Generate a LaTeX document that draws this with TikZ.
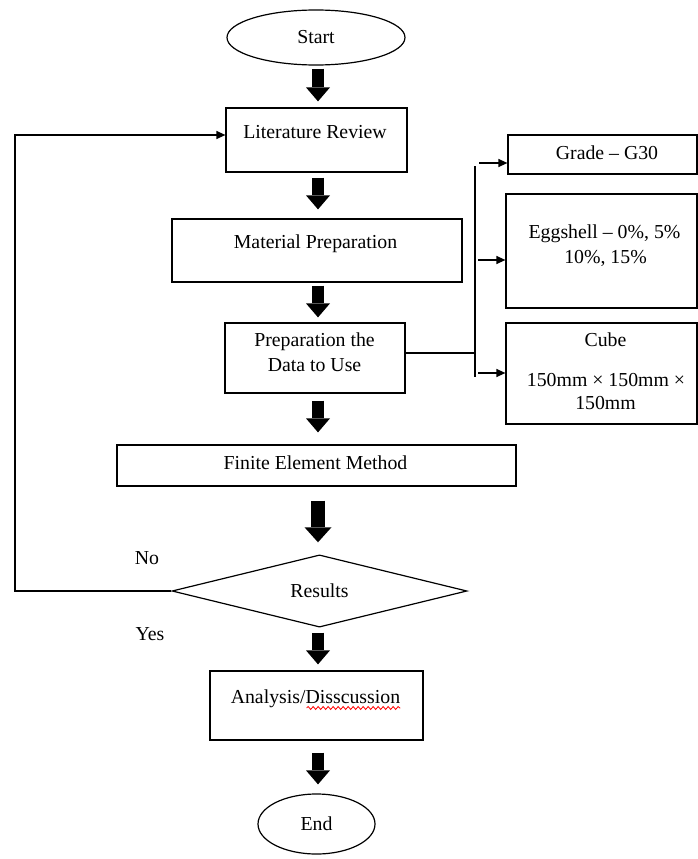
\documentclass[tikz,border=0pt]{standalone}
\usepackage{fontspec}
\setmainfont{Liberation Serif}
\usetikzlibrary{arrows.meta,shapes.geometric,decorations.pathmorphing}
\begin{document}
\begin{tikzpicture}[x=1pt,y=-1pt,
  box/.style={draw, line width=1.2pt, rectangle, inner sep=0pt},
  oval/.style={draw, line width=1.2pt, ellipse, inner sep=0pt, font=\fontsize{19.8}{23}\selectfont},
  decision/.style={draw, line width=1.2pt, diamond, inner sep=0pt, font=\fontsize{19.8}{23}\selectfont},
  txt/.style={inner sep=0pt, anchor=base, font=\fontsize{19.8}{23}\selectfont},
  blk/.style={line width=12pt, -{Triangle[width=24pt,length=14pt,line width=0pt]}},
  blkbig/.style={line width=14pt, -{Triangle[width=27pt,length=15pt,line width=0pt]}},
  thinline/.style={line width=1.2pt},
  arr/.style={line width=1.2pt, -{Triangle[width=8pt,length=9pt]}},
]
\useasboundingbox (0,0) rectangle (698,859);

% main column
\node[oval, minimum width=178pt, minimum height=55pt] (start) at (316,37.5) {Start};
\node[box, minimum width=181pt, minimum height=64pt] (lit) at (316.5,140) {};
\node[txt] (litT) at (315,138) {Literature Review};
\node[box, minimum width=290pt, minimum height=63pt] (mat) at (317,250.5) {};
\node[txt] (matT) at (315.5,248) {Material Preparation};
\node[box, minimum width=180pt, minimum height=70pt] (prep) at (315,358) {};
\node[txt] (prepT1) at (314.5,346) {Preparation the};
\node[txt] (prepT2) at (314.5,371) {Data to Use};
\node[box, minimum width=399pt, minimum height=41pt] (fem) at (316.5,465.5) {};
\node[txt] (femT) at (315.5,469) {Finite Element Method};
\node[decision, minimum width=295pt, minimum height=72pt] (res) at (319.5,591) {Results};
\node[box, minimum width=213pt, minimum height=69pt] (ana) at (316.5,705.5) {};
\node[txt] (anaT) at (315.5,703) {Analysis/Disscussion};
\node[oval, minimum width=117pt, minimum height=60pt] (end) at (316.5,824) {End};

% right column
\node[box, minimum width=189pt, minimum height=39pt] (grade) at (602.5,154.5) {};
\node[txt] (gradeT) at (607,159) {Grade -- G30};
\node[box, minimum width=191pt, minimum height=114pt] (egg) at (601.5,251) {};
\node[txt] (eggT1) at (604.5,238) {Eggshell -- 0\%, 5\%};
\node[txt] (eggT2) at (605.5,263) {10\%, 15\%};
\node[box, minimum width=191pt, minimum height=101pt] (cube) at (601.5,373.5) {};
\node[txt] (cubeT1) at (605.5,346) {Cube};
\node[txt] (cubeT2) at (606,386) {150mm × 150mm ×};
\node[txt] (cubeT3) at (605.5,409) {150mm};

% labels
\node[txt] (no) at (147,564) {No};
\node[txt] (yes) at (150,640) {Yes};

% block arrows
\coordinate (ax) at (318,0);
\draw[blk, shorten <=3pt, shorten >=6pt] (start.south -| ax) -- (lit.north -| ax);
\draw[blk, shorten <=5pt, shorten >=9pt] (lit.south -| ax) -- (mat.north -| ax);
\draw[blk, shorten <=3pt, shorten >=5pt] (mat.south -| ax) -- (prep.north -| ax);
\draw[blk, shorten <=7pt, shorten >=12pt] (prep.south -| ax) -- (fem.north -| ax);
\draw[blkbig, shorten <=14pt, shorten >=12pt] (fem.south -| ax) -- (res.north -| ax);
\draw[blk, shorten <=5pt, shorten >=6pt] (res.south -| ax) -- (ana.north -| ax);
\draw[blk, shorten <=12pt, shorten >=9pt] (ana.south -| ax) -- (end.north -| ax);

% loop back
\coordinate (loopB) at (15,591);
\coordinate (loopT) at (15,135);
\draw[arr] (res.west) -- (loopB) -- (loopT) -- (loopT -| lit.west);

% branch to right column
\coordinate (j) at (475,353);
\coordinate (busT) at (475,166);
\coordinate (busB) at (475,377);
\draw[thinline] (prep.east |- j) -- (j);
\draw[thinline] (busT) -- (busB);
\coordinate (a1) at (479,163);
\coordinate (a2) at (478,260);
\coordinate (a3) at (478,373);
\draw[arr] (a1) -- (a1 -| grade.west);
\draw[arr] (a2) -- (a2 -| egg.west);
\draw[arr] (a3) -- (a3 -| cube.west);

% spell-check squiggle
\draw[red, line width=0.8pt, decorate, decoration={snake, amplitude=1.5pt, segment length=5pt}]
  ([xshift=76pt,yshift=-5pt]anaT.base west) -- ([yshift=-5pt]anaT.base east);
\end{tikzpicture}
\end{document}
